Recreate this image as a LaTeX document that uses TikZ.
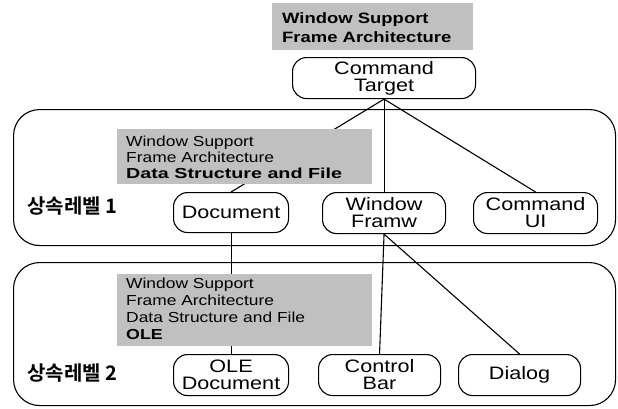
\documentclass[tikz,border=0pt]{standalone}
\usepackage{fontspec}
\setmainfont{Liberation Sans}[FakeStretch=1.2]
\newfontfamily\bdf{Liberation Sans}[UprightFont={* Bold}, FakeStretch=1.23]
\newfontfamily\bwide{Liberation Sans}[UprightFont={* Bold}, FakeStretch=1.36]
\newfontfamily\kof{Noto Sans CJK KR}[UprightFont={* Bold}]
\definecolor{grayfill}{RGB}{192,192,192}
\pgfdeclarelayer{bg}
\pgfdeclarelayer{lines}
\pgfsetlayers{bg,lines,main}
\begin{document}
\begin{tikzpicture}[x=1pt,y=-1pt,
  lvl/.style={draw, line width=1.1pt, rounded corners=26pt, inner sep=0pt, anchor=north west},
  cls/.style={draw, line width=1.1pt, rounded corners=14pt, fill=white, inner sep=0pt,
    align=center, anchor=north west, font=\fontsize{18}{17}\selectfont},
  gbox/.style={fill=grayfill, inner sep=0pt, anchor=north west},
  gtxt/.style={anchor=base west, inner sep=0pt, font=\fontsize{14.5}{16}\selectfont},
  gbold/.style={anchor=base west, inner sep=0pt, font=\fontsize{14.5}{16}\bdf},
  kor/.style={anchor=west, inner sep=0pt, font=\fontsize{20}{22}\kof},
  conn/.style={line width=1.1pt}
]
\useasboundingbox (0,0) rectangle (618,408);

% level containers
\begin{pgfonlayer}{bg}
\node[lvl, minimum width=602pt, minimum height=136pt] (L1) at (13,109) {};
\node[lvl, minimum width=602pt, minimum height=143pt] (L2) at (13,262) {};
\end{pgfonlayer}

% top gray label
\node[gbox, minimum width=201pt, minimum height=47pt] (g1) at (272,3) {};
\node[gbold, font=\fontsize{15}{16}\bdf] (g1a) at (282,23) {Window Support};
\node[gbold, font=\fontsize{15}{16}\bdf] (g1b) at (282,42) {Frame Architecture};

% level 1 gray label
\node[gbox, minimum width=255pt, minimum height=55pt] (g2) at (117,129) {};
\node[gtxt] (g2a) at (126,146) {Window Support};
\node[gtxt] (g2b) at (126,162) {Frame Architecture};
\node[gbold, font=\fontsize{14.5}{16}\bwide] (g2c) at (126,178) {Data Structure and File};

% level 2 gray label
\node[gbox, minimum width=255pt, minimum height=72pt] (g3) at (117,274) {};
\node[gtxt] (g3a) at (126,288) {Window Support};
\node[gtxt] (g3b) at (126,305) {Frame Architecture};
\node[gtxt] (g3c) at (126,322) {Data Structure and File};
\node[gbold] (g3d) at (126,339) {OLE};

% level labels
\node[kor] (k1) at (27,206) {상속레벨 1};
\node[kor] (k2) at (27,373) {상속레벨 2};

% classes
\node[cls, minimum width=183pt, minimum height=41pt] (ct) at (292,57) {Command\\Target};
\node[cls, minimum width=115pt, minimum height=40pt] (doc) at (173,192) {Document};
\node[cls, minimum width=123pt, minimum height=41pt] (wf) at (322,192) {Window\\Framw};
\node[cls, minimum width=124pt, minimum height=41pt] (cui) at (473,192) {Command\\UI};
\node[cls, minimum width=115pt, minimum height=41pt] (oled) at (173,354) {OLE\\Document};
\node[cls, minimum width=122pt, minimum height=41pt] (cb) at (318,354) {Control\\Bar};
\node[cls, minimum width=122pt, minimum height=41pt] (dlg) at (458,354) {Dialog};

% connectors
\begin{pgfonlayer}{lines}
\draw[conn] (ct.south) -- (doc.north);
\draw[conn] (ct.south) -- (wf.north);
\draw[conn] (ct.south) -- (cui.north);
\draw[conn] (doc.south) -- (oled.north);
\draw[conn] (wf.south) -- (cb.north);
\draw[conn] (wf.south) -- (dlg.north);
\end{pgfonlayer}
\end{tikzpicture}
\end{document}
